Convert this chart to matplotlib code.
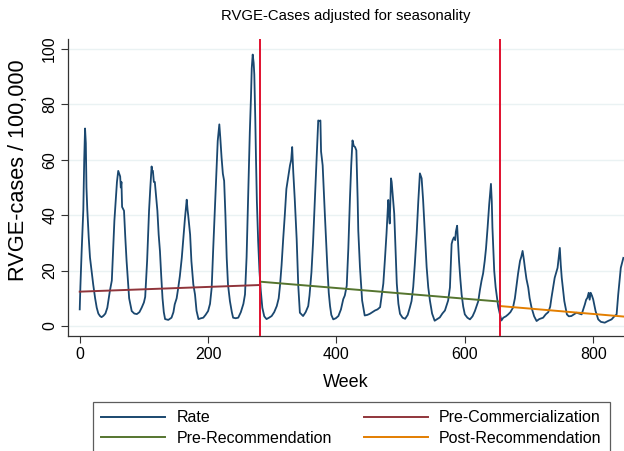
import matplotlib
matplotlib.use("Agg")
import matplotlib.pyplot as plt
from matplotlib.lines import Line2D

plt.rcParams['font.family'] = ['Liberation Sans', 'DejaVu Sans']

# ---- data ----
rate_weeks = [0, 1, 3, 5.6, 7, 8.3, 9.5, 10.5, 11.8, 14, 16, 21, 24, 26.5, 29, 31.6, 34, 37, 40, 43,
              47, 50, 52, 54, 56.5, 58, 60, 61.5, 63, 64, 65, 66, 69, 71, 73, 77, 81, 85, 89, 93,
              96.5, 100, 102, 105, 108, 110, 112, 113, 114, 115.5, 117, 121, 123, 125, 127, 129, 131, 133, 138, 143,
              146, 148, 151, 153.5, 156, 159, 162, 164, 166.7, 168, 169, 172, 174, 177, 179.6, 182, 185, 189, 192.5, 196,
              200, 203, 205.6, 208, 210.7, 213, 215, 217.5, 219, 221, 223, 225, 227, 229, 231, 234, 237, 239, 243, 247,
              251, 255, 257.5, 260, 262.6, 265, 266.8, 268, 269.5, 271, 272, 273.5, 274.6, 276, 278, 280, 282, 284.5, 287.5, 291,
              295, 299, 303, 307, 310, 312, 314.5, 317, 319.5, 322, 325, 327.6, 329.5, 331, 332.7, 335, 338, 340.5, 343, 348,
              352, 356, 358, 361, 363.5, 366.5, 369, 371.6, 373, 375, 376, 378.5, 380, 382, 385.7, 388, 390, 392, 395, 399,
              403, 407, 410.6, 413, 416, 418.5, 421, 423, 425, 427, 429, 431, 433, 434, 436.6, 440, 444, 448, 452, 456,
              460, 464, 468, 473, 475.5, 478, 480.7, 482, 483, 485, 486, 487.5, 490, 492, 494, 496.5, 499, 503, 507, 511,
              514.5, 517, 519.6, 522, 525, 527.5, 530, 532.7, 535, 537.8, 540.5, 543, 545.6, 549, 553, 557, 561, 565, 569, 574,
              576.8, 579.4, 581, 583, 585, 586, 588, 589.5, 591, 593, 595, 597.5, 600, 604, 608, 612, 615.7, 618, 621, 623.5,
              626, 628.5, 631, 633, 635.5, 638, 640.7, 642, 643, 645.8, 648, 649.5, 652, 654.7, 657, 660, 664, 667.6, 671, 675,
              678, 680.7, 683, 686, 688, 690, 692, 693.6, 696, 698.8, 701, 704, 708, 711.8, 716, 722, 726, 730, 733, 735,
              740, 742, 744.5, 746.5, 748, 749.5, 751, 755, 759, 762, 766, 770, 774, 778, 782, 784.5, 787, 789, 791, 793,
              794.5, 796, 798, 800, 803.7, 807.8, 812, 818, 823, 828.7, 833, 836.5, 839, 843, 847]
rate_vals = [6.0, 14, 27, 42, 60, 71.3, 66, 50, 42, 32, 24.7, 15, 10, 6.6, 4.5, 3.6, 3.2, 3.7, 4.5, 6.6,
             12.7, 16.4, 27, 38, 47, 52, 56, 55, 54, 50, 52, 43, 41.6, 32, 23.5, 10, 5.4, 4.5, 4.3, 5,
             6.6, 8.5, 10.5, 23.5, 41.6, 50, 57.6, 56, 56, 52, 52, 41.6, 33, 27, 18, 10, 5, 2.5, 2.2, 3,
             5, 7.8, 10, 13.8, 18, 24.6, 33, 39, 45.6, 42, 40, 33, 23.4, 15, 11.4, 5.5, 2.5, 2.8, 3, 4,
             5.4, 8, 13.8, 28, 42.7, 55, 66.8, 72.8, 68, 60.8, 55, 52.4, 40, 24.6, 15, 9, 5, 3, 2.8, 3,
             5, 8, 11.4, 25, 48.7, 70, 82.5, 93, 98, 95, 90.8, 75, 60.8, 45, 30.6, 20, 13, 6.6, 3.5, 2.5,
             3, 3.6, 5, 7.2, 10, 14.5, 22, 31.4, 40, 49.5, 54, 58, 60, 64.6, 55.6, 45.9, 31.4, 14.5, 4.8, 3.6,
             5, 7.2, 11, 19.3, 30, 45.9, 60, 74.2, 74, 74.2, 63, 58, 50, 39.9, 21.8, 12, 7.2, 4, 2.4, 2.8,
             3.6, 6, 9.7, 11, 14.5, 28, 45.9, 58, 67, 65, 64.6, 63.4, 45.9, 34.4, 21.3, 9.2, 3.8, 4, 4.4, 5,
             5.6, 6, 6.8, 15.3, 24, 33.4, 45.5, 40, 37, 53.3, 52, 47.9, 40.6, 28, 15.3, 8, 4.4, 3, 2.6, 4,
             6.8, 9, 14.1, 22, 33.4, 45, 55.1, 53.3, 45.5, 33.4, 21.3, 14, 9.2, 4.5, 1.9, 2.5, 3.1, 4.5, 5.6, 9.2,
             13.9, 29.6, 31, 32, 31, 34, 36.2, 30, 23.5, 17, 11.4, 7, 4.2, 3, 2.4, 3.5, 5.4, 7, 9, 13,
             16.3, 19, 23.5, 28, 35.6, 44, 51.3, 45, 35.6, 19.9, 14, 11.4, 7, 4.2, 2, 3, 3.5, 4.2, 5, 6.6,
             10, 15, 19, 23.5, 25, 27.1, 24, 21, 17, 13.9, 10, 6.6, 3.5, 1.8, 2.5, 3, 4.2, 5, 7, 10.2,
             17.4, 19, 21, 25, 28.2, 22, 17.4, 9, 4.2, 3.5, 3.6, 4.2, 4.8, 4.5, 4.2, 6, 7.8, 9.5, 10.2, 12,
             9.5, 12, 11, 9.6, 5.4, 2.4, 1.5, 1.2, 1.8, 2.4, 3.5, 4.2, 11.4, 21, 24.6]

precomm_weeks = [0, 281]
precomm_vals = [12.4, 14.8]
prerec_weeks = [281, 655]
prerec_vals = [16.0, 8.8]
postrec_weeks = [655, 848]
postrec_vals = [7.2, 3.4]

cut_weeks = [281, 655]

title = "RVGE-Cases adjusted for seasonality"
xlabel = "Week"
ylabel = "RVGE-cases / 100,000"
xticks = [0, 200, 400, 600, 800]
yticks = [0, 20, 40, 60, 80, 100]
labels = ["Rate", "Pre-Commercialization", "Pre-Recommendation", "Post-Recommendation"]

# ---- styling ----
c_rate = "#1a476f"
c_precomm = "#90353b"
c_prerec = "#55752f"
c_postrec = "#e37e00"
c_cut = "#e0102e"

fig = plt.figure(figsize=(6.24, 4.51), dpi=100)
ax = fig.add_axes([68.3 / 624, 1 - 335.7 / 451, 1 - 68.3 / 624, (335.7 - 39.3) / 451])

for y in yticks:
    ax.axhline(y, color="#eaf2f3", lw=1.0, zorder=0)

ax.plot(rate_weeks, rate_vals, color=c_rate, lw=1.3, zorder=2)
ax.plot(precomm_weeks, precomm_vals, color=c_precomm, lw=1.4, zorder=3)
ax.plot(prerec_weeks, prerec_vals, color=c_prerec, lw=1.4, zorder=3)
ax.plot(postrec_weeks, postrec_vals, color=c_postrec, lw=1.4, zorder=3)
for w in cut_weeks:
    ax.axvline(w, color=c_cut, lw=1.4, zorder=4)

ax.set_xlim(-17.8, 848)
ax.set_ylim(-3.5, 103.5)
ax.set_xticks(xticks)
ax.set_yticks(yticks)
ax.set_xticklabels([str(t) for t in xticks], fontsize=11.5)
ax.set_yticklabels([str(t) for t in yticks], fontsize=11.5, rotation=90, va="center")
ax.tick_params(axis="both", direction="out", length=5, width=0.8, color="#333333")
ax.tick_params(axis="x", pad=3)
ax.tick_params(axis="y", pad=3)
for s in ["top", "right"]:
    ax.spines[s].set_visible(False)
for s in ["left", "bottom"]:
    ax.spines[s].set_color("#333333")
    ax.spines[s].set_linewidth(0.9)

ax.set_xlabel(xlabel, fontsize=13, labelpad=9)
ax.set_ylabel(ylabel, fontsize=15.7)
ax.yaxis.set_label_coords(-(68.3 - 29) / (624 - 68.3), (335.7 - 170) / 296.4)
ax.set_title(title, fontsize=10.7, pad=14)

handles = [Line2D([], [], color=c_rate, lw=1.4),
           Line2D([], [], color=c_prerec, lw=1.4),
           Line2D([], [], color=c_precomm, lw=1.4),
           Line2D([], [], color=c_postrec, lw=1.4)]
leg_labels = [labels[0], labels[2], labels[1], labels[3]]
leg = fig.legend(handles, leg_labels, ncol=2, loc="upper left",
                 bbox_to_anchor=(92.7 / 624, 1 - 401.7 / 451 - 0.01, (610 - 92.7) / 624, 0.01),
                 bbox_transform=fig.transFigure, mode="expand", frameon=True, fancybox=False,
                 edgecolor="#333333", fontsize=11.5, handlelength=4.0, handletextpad=0.7,
                 labelspacing=0.35, borderpad=0.55, borderaxespad=0)
leg.get_frame().set_linewidth(0.9)

fig.savefig("out.png", dpi=100)
